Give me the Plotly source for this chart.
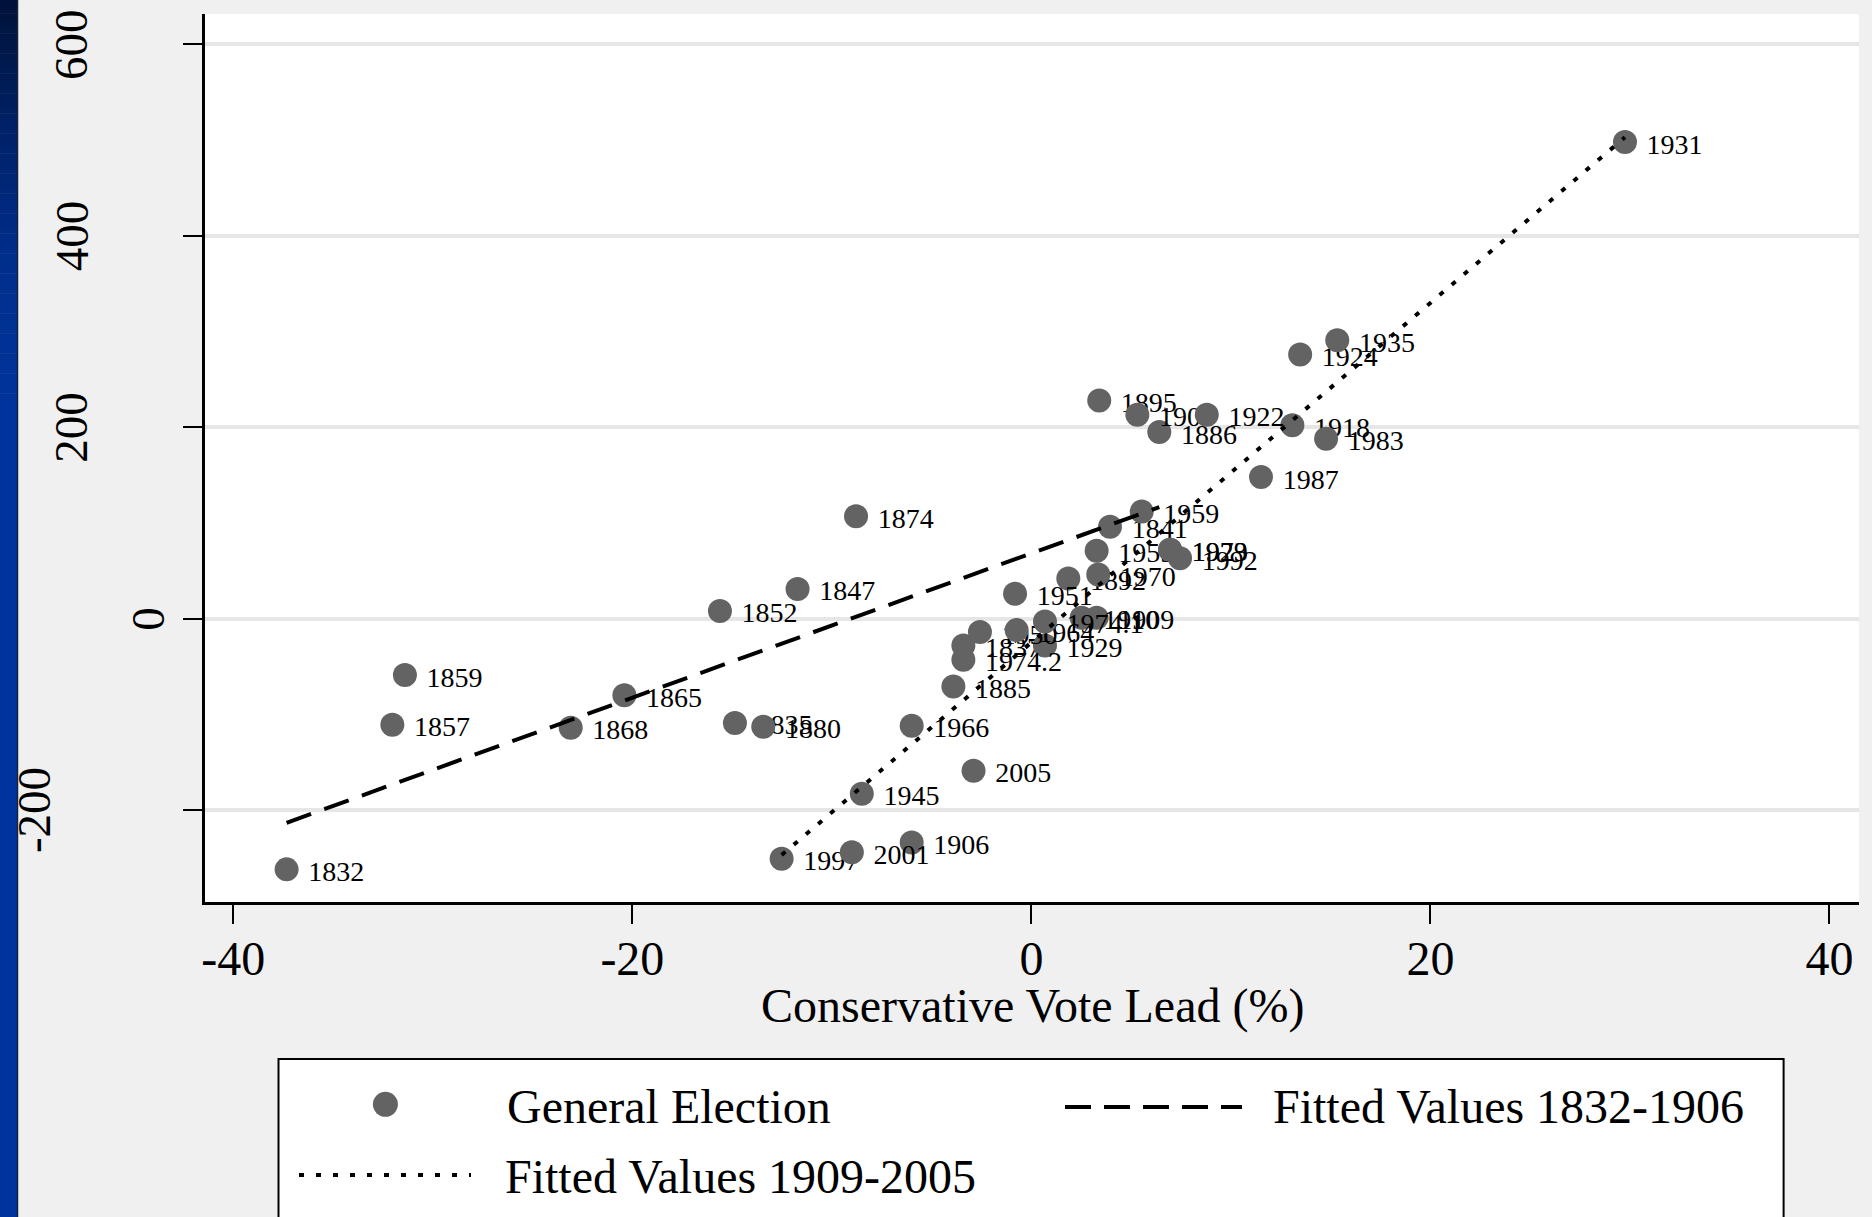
import plotly.graph_objects as go

# ---- data: general elections, Conservative vote lead (%) vs seat lead ----
years = ["1832", "1835", "1837", "1841", "1847", "1852", "1857", "1859", "1865",
         "1868", "1874", "1880", "1885", "1886", "1892", "1895", "1900", "1906",
         "1909", "1910", "1918", "1922", "1923", "1924", "1929", "1931", "1935",
         "1945", "1950", "1951", "1955", "1959", "1964", "1966", "1970", "1974.1",
         "1974.2", "1979", "1983", "1987", "1992", "1997", "2001", "2005"]
vote_lead = [-37.33, -14.86, -3.41, 3.94, -11.72, -15.61, -32.03, -31.4, -20.4,
             -23.09, -8.79, -13.44, -3.91, 6.41, 1.85, 3.4, 5.31, -6.0,
             3.27, 2.52, 13.08, 8.79, 6.95, 13.47, 0.68, 29.75, 15.33,
             -8.5, -2.58, -0.82, 3.27, 5.53, -0.74, -6.0, 3.35, 0.68,
             -3.41, 6.95, 14.77, 11.51, 7.45, -12.52, -9.0, -2.9]
seat_lead = [-262, -109, -28, 96, 31, 8, -111, -59, -80,
             -114, 107, -113, -71, 195, 42, 228, 213, -234,
             1, 1, 202, 213, 72, 276, -28, 498, 291,
             -183, -14, 26, 71, 112, -12, -112, 46, -3,
             -43, 72, 188, 148, 63, -251, -244, -159]

# fitted values (end points of the two regression lines)
fit_early_x = [-37.33, 6.41]
fit_early_y = [-213.3, 116.6]
fit_late_x = [-12.52, 29.75]
fit_late_y = [-247.0, 503.0]

x_ticks = [-40, -20, 0, 20, 40]
x_tick_text = ["-40", "-20", "0", "20", "40"]
y_ticks = [-200, 0, 200, 400, 600]
y_tick_text = ["-200", "0", "200", "400", "600"]

legend_labels = ["General Election", "Fitted Values 1832-1906", "Fitted Values 1909-2005"]
x_title = "Conservative Vote Lead (%)"

# ---- styling ----
W, H = 1872, 1217
ML, MR, MT, MB = 205, 13, 14, 315
PW, PH = W - ML - MR, H - MT - MB
SERIF = "Liberation Serif, Times New Roman, serif"
DOT = "#636363"
# horizontal centre (px from left page edge) of each rotated y tick label
y_label_centre = [34, 148, 71.5, 71.5, 71.5]


def px(xp):
    return (xp - ML) / PW


def py(yp):
    return (H - MB - yp) / PH


fig = go.Figure()

# points with their year labels, drawn in year order so later dots sit on earlier labels
for yr, vx, sy in zip(years, vote_lead, seat_lead):
    fig.add_trace(go.Scatter(
        x=[vx], y=[sy], mode="markers",
        marker=dict(size=24, color=DOT, line=dict(width=0)),
        hoverinfo="skip", showlegend=False))
    # the larger text size only sets the label's vertical placement; the span sets its glyph size
    fig.add_trace(go.Scatter(
        x=[vx], y=[sy], mode="markers+text",
        text=['<span style="font-size:28px">%s</span>' % yr],
        textposition="middle right",
        textfont=dict(family=SERIF, size=46, color="black"),
        marker=dict(size=33, color="rgba(0,0,0,0)", line=dict(width=0)),
        hoverinfo="skip", showlegend=False))

fig.add_trace(go.Scatter(
    x=fit_early_x, y=fit_early_y, mode="lines",
    line=dict(color="black", width=4, dash="26px,14px"),
    hoverinfo="skip", showlegend=False))
fig.add_trace(go.Scatter(
    x=fit_late_x, y=fit_late_y, mode="lines",
    line=dict(color="black", width=4, dash="5px,11px"),
    hoverinfo="skip", showlegend=False))

shapes = []
annotations = []

# blue strip at the left edge of the page
strip_stops = [(0, (0, 18, 56)), (120, (0, 32, 100)), (260, (0, 46, 140)),
               (380, (0, 51, 153)), (1217, (0, 51, 160))]
bands = 60
for i in range(bands):
    y0 = 400 * i / bands
    y1 = 400 * (i + 1) / bands
    ym = (y0 + y1) / 2
    for (a, ca), (b, cb) in zip(strip_stops[:-1], strip_stops[1:]):
        if a <= ym <= b:
            t = (ym - a) / (b - a)
            c = tuple(int(round(ca[k] + (cb[k] - ca[k]) * t)) for k in range(3))
            break
    shapes.append(dict(type="rect", xref="paper", yref="paper",
                       x0=px(0), x1=px(17), y0=py(y1 + 0.5), y1=py(y0),
                       fillcolor="rgb(%d,%d,%d)" % c, line=dict(width=0), layer="above"))
shapes.append(dict(type="rect", xref="paper", yref="paper",
                   x0=px(0), x1=px(17), y0=py(1217), y1=py(400),
                   fillcolor="rgb(0,51,157)", line=dict(width=0), layer="above"))
shapes.append(dict(type="line", xref="paper", yref="paper",
                   x0=px(17.5), x1=px(17.5), y0=py(1217), y1=py(0),
                   line=dict(color="#1a2040", width=1.5), layer="above"))

# y tick labels, rotated
for val, txt, cx in zip(y_ticks, y_tick_text, y_label_centre):
    annotations.append(dict(
        xref="paper", yref="y", x=0, y=val, xshift=cx - ML,
        text=txt, textangle=-90, showarrow=False,
        xanchor="center", yanchor="middle",
        font=dict(family=SERIF, size=47, color="black")))

# x axis title
annotations.append(dict(
    xref="paper", yref="paper", x=px(1032.5), y=py(1006), text=x_title,
    showarrow=False, xanchor="center", yanchor="middle",
    font=dict(family=SERIF, size=48, color="black")))

# legend box
shapes.append(dict(type="rect", xref="paper", yref="paper",
                   x0=px(278.5), x1=px(1783.6), y0=py(1240), y1=py(1059),
                   fillcolor="white", line=dict(color="black", width=2)))
r = 12.5
shapes.append(dict(type="circle", xref="paper", yref="paper",
                   x0=px(385.4 - r), x1=px(385.4 + r),
                   y0=py(1104.3 + r), y1=py(1104.3 - r),
                   fillcolor=DOT, line=dict(width=0)))
shapes.append(dict(type="line", xref="paper", yref="paper",
                   x0=px(1065), x1=px(1242), y0=py(1107), y1=py(1107),
                   line=dict(color="black", width=4, dash="26px,13px")))
shapes.append(dict(type="line", xref="paper", yref="paper",
                   x0=px(299), x1=px(471), y0=py(1175), y1=py(1175),
                   line=dict(color="black", width=4, dash="5px,12px")))
for txt, lx, ly in zip(legend_labels, [505, 1271, 503], [1106.5, 1106.5, 1176.5]):
    annotations.append(dict(
        xref="paper", yref="paper", x=px(lx), y=py(ly), text=txt,
        showarrow=False, xanchor="left", yanchor="middle",
        font=dict(family=SERIF, size=48, color="black")))

fig.update_layout(
    width=W, height=H,
    margin=dict(l=ML, r=MR, t=MT, b=MB, pad=0),
    paper_bgcolor="#f0f0f0", plot_bgcolor="white",
    font=dict(family=SERIF, color="black"),
    showlegend=False,
    shapes=shapes, annotations=annotations,
    xaxis=dict(
        range=[-41.42, 41.48], tickvals=x_ticks, ticktext=x_tick_text,
        ticks="outside", ticklen=19, tickwidth=2, tickcolor="black",
        ticklabelstandoff=-6,
        showline=True, linecolor="black", linewidth=2.5,
        showgrid=False, zeroline=False,
        tickfont=dict(family=SERIF, size=48, color="black")),
    yaxis=dict(
        range=[-296.1, 631.8], tickvals=y_ticks,
        ticks="outside", ticklen=19, tickwidth=2, tickcolor="black",
        showticklabels=False,
        showline=True, linecolor="black", linewidth=2.5,
        showgrid=True, gridcolor="#e6e6e6", gridwidth=4, zeroline=False),
)

fig.write_html("out.html")
